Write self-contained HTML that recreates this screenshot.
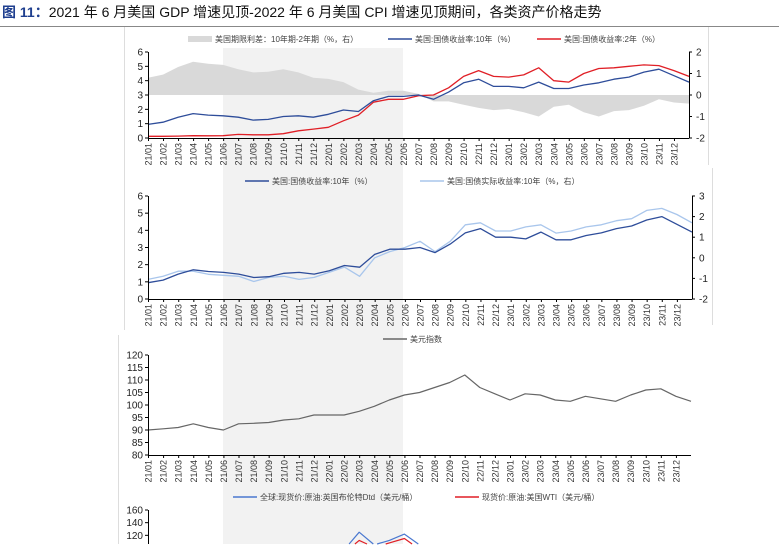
<!DOCTYPE html>
<html><head><meta charset="utf-8">
<style>
body{margin:0;background:#fff;width:779px;height:545px;overflow:hidden;font-family:"Liberation Sans","Noto Sans CJK SC",sans-serif}
svg{display:block;overflow:hidden}
svg text{font-family:"Liberation Sans","Noto Sans CJK SC",sans-serif}
</style></head>
<body>
<svg id="s" width="779" height="545" xmlns="http://www.w3.org/2000/svg">
<text x="2" y="17" font-size="14"><tspan fill="#1f3f8f" font-weight="bold">图 11：</tspan><tspan fill="#111">2021 年 6 月美国 GDP 增速见顶-2022 年 6 月美国 CPI 增速见顶期间，各类资产价格走势</tspan></text>
<line x1="0" y1="26.5" x2="779" y2="26.5" stroke="#888" stroke-width="1"/>
<line x1="124.5" y1="27" x2="124.5" y2="330" stroke="#ddd"/>
<line x1="118.5" y1="335" x2="118.5" y2="544" stroke="#ddd"/>
<line x1="708.5" y1="27" x2="708.5" y2="165" stroke="#ddd"/>
<line x1="712.5" y1="168" x2="712.5" y2="325" stroke="#ddd"/>
<rect x="223" y="48" width="180" height="496" fill="#f2f2f2"/>
<g id="g"></g>
</svg>
<script>
const months=['21/01','21/02','21/03','21/04','21/05','21/06','21/07','21/08','21/09','21/10','21/11','21/12','22/01','22/02','22/03','22/04','22/05','22/06','22/07','22/08','22/09','22/10','22/11','22/12','23/01','23/02','23/03','23/04','23/05','23/06','23/07','23/08','23/09','23/10','23/11','23/12'];
const y10=[0.95,1.1,1.45,1.7,1.6,1.55,1.45,1.25,1.3,1.5,1.55,1.45,1.65,1.95,1.85,2.6,2.9,2.9,3.0,2.7,3.2,3.85,4.1,3.6,3.6,3.5,3.9,3.45,3.45,3.7,3.85,4.1,4.25,4.6,4.8,4.35,3.9];
const y2=[0.12,0.12,0.13,0.16,0.15,0.16,0.25,0.22,0.22,0.3,0.5,0.62,0.75,1.2,1.6,2.5,2.7,2.7,2.95,3.0,3.5,4.3,4.7,4.3,4.25,4.4,4.9,4.0,3.9,4.5,4.85,4.9,5.0,5.1,5.05,4.7,4.3];
const spread=[0.8,0.95,1.3,1.55,1.45,1.4,1.2,1.05,1.08,1.2,1.05,0.8,0.75,0.6,0.25,0.1,0.2,0.2,0.05,-0.3,-0.3,-0.45,-0.6,-0.7,-0.65,-0.8,-1.0,-0.55,-0.45,-0.8,-1.0,-0.75,-0.7,-0.5,-0.2,-0.35,-0.4];
const real10=[-1.05,-0.9,-0.65,-0.65,-0.8,-0.85,-0.9,-1.15,-0.95,-0.9,-1.05,-0.95,-0.7,-0.45,-0.9,0.0,0.3,0.5,0.8,0.3,0.8,1.6,1.7,1.3,1.3,1.5,1.6,1.2,1.3,1.5,1.6,1.8,1.9,2.3,2.4,2.1,1.7];
const dxy=[90,90.5,91,92.5,91,90,92.5,92.7,93,94,94.5,96,96,96,97.5,99.5,102,104,105,107,109,112,107,104.5,102,104.5,104,102,101.5,103.5,102.5,101.5,104,106,106.5,103.5,101.5];
const brent=[55,62,65,64,68,72,75,70,74,83,82,74,87,97,125,105,112,122,105,100,90,93,95,85,83,83,78,79,75,75,80,87,95,90,85,82,78];
const wti=[52,59,62,61,65,70,72,67,71,81,79,71,85,92,112,101,108,115,98,92,84,87,88,76,78,77,73,76,71,70,76,82,90,85,78,75,72];
const ticks1=['6','5','4','3','2','1','0'], ticks1r=['2','1','0','-1','-2'];
const ticks2r=['3','2','1','0','-1','-2'];
const ticks3=['120','115','110','105','100','95','90','85','80'];
const ticks4=['160','140','120'];

const NS='http://www.w3.org/2000/svg', G=document.getElementById('g');
function el(t,a,txt){const e=document.createElementNS(NS,t);for(const k in a)e.setAttribute(k,a[k]);if(txt!==undefined)e.textContent=txt;G.appendChild(e);return e;}
function xs(x0,x1){return i=>x0+(x1-x0)*i/36;}
function ys(yTop,yBot,vTop,vBot){return v=>yTop+(v-vTop)/(vBot-vTop)*(yBot-yTop);}
function pathD(arr,x,y,lim){
  if(lim===undefined) return arr.map((v,i)=>(i?'L':'M')+x(i).toFixed(1)+','+y(v).toFixed(1)).join('');
  let d='',pen=false;
  for(let i=0;i<arr.length-1;i++){
    let x1=x(i),y1=y(arr[i]),x2=x(i+1),y2=y(arr[i+1]);
    if(y1>lim&&y2>lim){pen=false;continue;}
    let sx=x1,sy=y1,ex=x2,ey=y2;
    if(y1>lim){const t=(lim-y1)/(y2-y1);sx=x1+t*(x2-x1);sy=lim;pen=false;}
    if(y2>lim){const t=(lim-y1)/(y2-y1);ex=x1+t*(x2-x1);ey=lim;}
    if(!pen){d+='M'+sx.toFixed(1)+','+sy.toFixed(1);}
    d+='L'+ex.toFixed(1)+','+ey.toFixed(1);
    pen=!(y2>lim);
  }
  return d||'M0,0';
}
function line(arr,x,y,color,w,name,lim){const p=el('path',{d:pathD(arr,x,y,lim),fill:'none',stroke:color,'stroke-width':w,'stroke-linejoin':'round'});

return p;}
function xaxis(x,yb,name,x1){const a=el('line',{x1:x(0),y1:yb+.5,x2:x1,y2:yb+.5,stroke:'#000'});


months.forEach((m,i)=>{el('line',{x1:x(i)+.5,y1:yb,x2:x(i)+.5,y2:yb+3,stroke:'#000'});const t=el('text',{x:0,y:0,'font-size':9,fill:'#333','text-anchor':'end',transform:`translate(${x(i)+3.5},${yb+5}) rotate(-90)`},m);

});}
function yaxis(xa,ticks,y,vals,side,name,yEnd){const a=el('line',{x1:xa+.5,y1:y(vals[0]),x2:xa+.5,y2:yEnd!==undefined?yEnd:y(vals[vals.length-1]),stroke:'#000'});


ticks.forEach((t,i)=>{const yy=y(vals[i]);el('line',{x1:side?xa:xa-3,y1:yy,x2:side?xa+3:xa,y2:yy,stroke:'#000'});const tx=el('text',{x:side?xa+7:xa-5,y:yy+3.5,'font-size':10,fill:'#222','text-anchor':side?'start':'end'},t);

});}
function legend(x,y,color,txt,name,rect){if(rect)el('rect',{x:x,y:y-3,width:24,height:6,fill:color});else el('line',{x1:x,y1:y,x2:x+24,y2:y,stroke:color,'stroke-width':1.5});const t=el('text',{x:x+27,y:y+3,'font-size':8,fill:'#444'},txt);

}

// Chart 1
{const x=xs(148,689),y=ys(52,138,6,0),yr=ys(52,138,2,-2);
legend(188,39,'#d9d9d9','美国期限利差：10年期-2年期（%，右）','legend-spread',true);
legend(388,39,'#2e4d9a','美国:国债收益率:10年（%）','legend-10y');
legend(537,39,'#e01f26','美国:国债收益率:2年（%）','legend-2y');
const d='M'+x(0)+','+yr(0)+spread.map((v,i)=>'L'+x(i).toFixed(1)+','+yr(v).toFixed(1)).join('')+'L'+x(36)+','+yr(0)+'Z';
const a=el('path',{d:d,fill:'#d9d9d9'});


line(y2,x,y,'#e01f26',1.3,'series-2y');
line(y10,x,y,'#2e4d9a',1.3,'series-10y');
yaxis(148,ticks1,y,[6,5,4,3,2,1,0],0,'y-axis-left-1');
yaxis(689,ticks1r,yr,[2,1,0,-1,-2],1,'y-axis-right-1');
xaxis(x,138,'chart1',689);}
// Chart 2
{const x=xs(148,692),y=ys(196,299,6,0),yr=ys(196,299,3,-2);
legend(245,181,'#2e4d9a','美国:国债收益率:10年（%）','legend-10y-2');
legend(420,181,'#a9c6ec','美国:国债实际收益率:10年（%，右）','legend-real');
line(real10,x,yr,'#a9c6ec',1.3,'series-real-10y');
line(y10,x,y,'#2e4d9a',1.3,'series-10y-2');
yaxis(148,ticks1,y,[6,5,4,3,2,1,0],0,'y-axis-left-2');
yaxis(692,ticks2r,yr,[3,2,1,0,-1,-2],1,'y-axis-right-2');
xaxis(x,299,'chart2',692);}
// Chart 3
{const x=xs(148,691),y=ys(355,455,120,80);
legend(383,339,'#666','美元指数','legend-dxy');
line(dxy,x,y,'#666',1.2,'series-dxy');
yaxis(148,ticks3,y,[120,115,110,105,100,95,90,85,80],0,'y-axis-3');
xaxis(x,455,'chart3',691);}
// Chart 4 (cut off by frame)
{const x=xs(148,691),y=ys(510,548,160,100);
legend(233,497,'#4a78d0','全球:现货价:原油:英国布伦特Dtd（美元/桶）','legend-brent');
legend(455,497,'#e01f26','现货价:原油:美国WTI（美元/桶）','legend-wti');
line(brent,x,y,'#4a78d0',1.2,'series-brent',544);
line(wti,x,y,'#e01f26',1.2,'series-wti',544);
yaxis(148,ticks4,y,[160,140,120],0,'y-axis-4',544);}
</script>
</body></html>
